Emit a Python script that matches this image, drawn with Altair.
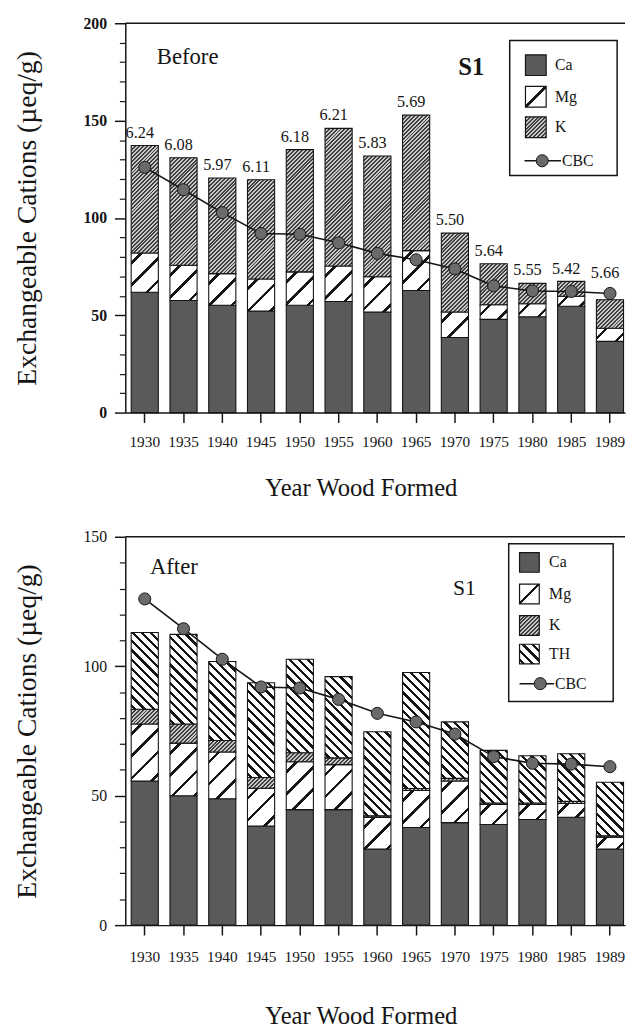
import math
import altair as alt
import pandas as pd

# ---------------- data ----------------
years = ["1930", "1935", "1940", "1945", "1950", "1955", "1960",
         "1965", "1970", "1975", "1980", "1985", "1989"]
ph_labels = ["6.24", "6.08", "5.97", "6.11", "6.18", "6.21", "5.83",
             "5.69", "5.50", "5.64", "5.55", "5.42", "5.66"]
cbc = [126.0, 114.5, 102.7, 92.0, 91.6, 87.2, 81.8, 78.5, 73.8, 65.1, 62.5, 62.2, 61.2]

ca_before = [61.8, 57.6, 55.1, 52.2, 55.1, 57.1, 51.7, 62.7, 38.6, 47.9, 49.2, 54.6, 36.6]
mg_before = [20.2, 18.1, 16.3, 16.4, 17.2, 18.2, 18.1, 20.5, 13.1, 7.5, 6.7, 5.2, 6.7]
k_before = [55.2, 55.2, 49.1, 51.0, 62.8, 70.7, 62.0, 69.6, 40.5, 21.1, 10.5, 7.6, 14.7]

ca_after = [55.7, 50.0, 48.8, 38.3, 44.6, 44.6, 29.4, 37.7, 39.6, 38.9, 40.8, 41.7, 29.4]
mg_after = [22.0, 20.3, 18.1, 14.6, 18.5, 17.4, 12.2, 14.3, 16.1, 7.7, 5.8, 5.3, 4.6]
k_after = [5.7, 7.4, 4.4, 4.1, 3.5, 2.6, 0.6, 0.8, 1.0, 0.6, 0.6, 0.8, 0.5]
th_after = [29.6, 34.6, 30.5, 36.6, 36.1, 31.4, 32.5, 44.8, 21.8, 20.3, 18.2, 18.4, 20.7]

legend_top = ["Ca", "Mg", "K"]
legend_bot = ["Ca", "Mg", "K", "TH"]

# ---------------- style ----------------
FONT = "Liberation Serif, Times New Roman, DejaVu Serif, serif"
INK = "#151515"
CA_FILL = "#5a5a5a"
DOT_FILL = "#6a6a6a"

W = 507
H_TOP, H_BOT = 395, 394
PAD_IN, PAD_OUT, ALIGN = 0.3, 0.095, 0.8
BAR_W = W / (len(years) - PAD_IN + 2 * PAD_OUT) * (1 - PAD_IN)

PATTERNS = {
    "Mg": dict(period=16, lw=2.6, fg=INK, bg="white", slash=True, phase=6),
    "K": dict(period=2.8, lw=1.4, fg="#404040", bg="#c8c8c8", slash=True, phase=0),
    "TH": dict(period=6.6, lw=2.3, fg=INK, bg="white", slash=False, phase=2),
}


def stripes(w, h, period, lw, fg, bg, slash=True, phase=0.0):
    """Hatch fill as a linear gradient with hard stops (45 degree lines)."""
    k = 2.0
    tpp = math.sqrt(2) * w / (k * (w * w + h * h))
    dmax = (w + h) / math.sqrt(2)
    stops = [{"offset": 0.0, "color": bg}]
    d = phase
    while d < dmax:
        a, b = max(d, 0.0), min(d + lw, dmax)
        if b > a:
            ta, tb = round(a * tpp, 5), round(b * tpp, 5)
            stops += [{"offset": ta, "color": bg}, {"offset": ta, "color": fg},
                      {"offset": tb, "color": fg}, {"offset": tb, "color": bg}]
        d += period
    stops.append({"offset": 1.0, "color": bg})
    if slash:
        x1, y1, x2, y2 = 0, 0, k, k * h / w
    else:
        x1, y1, x2, y2 = 0, 1, k, 1 - k * h / w
    return {"gradient": "linear", "x1": x1, "y1": y1, "x2": x2, "y2": y2, "stops": stops}


def swatch_fill(cat, size):
    if cat == "Ca":
        return CA_FILL
    if cat == "Mg":
        return stripes(size, size, period=200, lw=2.2, fg=INK, bg="white",
                       slash=True, phase=size / math.sqrt(2) - 1.1)
    return stripes(size, size, **PATTERNS[cat])


def segment_table(parts):
    rows = []
    for i, yr in enumerate(years):
        lo = 0.0
        for cat, vals in parts:
            hi = lo + vals[i]
            rows.append({"year": yr, "cat": cat, "lo": lo, "hi": hi, "key": f"{yr}|{cat}"})
            lo = hi
    return pd.DataFrame(rows)


one = pd.DataFrame({"k": [0]})


def legend_layers(box, names, sw_x, sw, text_x, ys, cbc_y, line_x, dot_x, cbc_text_x):
    out = [alt.Chart(one).mark_rect(fill="white", stroke=INK, strokeWidth=1.5).encode(
        x=alt.value(box[0]), x2=alt.value(box[2]), y=alt.value(box[1]), y2=alt.value(box[3]))]
    for name, yc in zip(names, ys):
        out.append(alt.Chart(one).mark_rect(fill=swatch_fill(name, sw), stroke=INK, strokeWidth=1.2).encode(
            x=alt.value(sw_x), x2=alt.value(sw_x + sw), y=alt.value(yc - sw / 2), y2=alt.value(yc + sw / 2)))
        out.append(alt.Chart(one).mark_text(font=FONT, fontSize=16, color=INK, align="left",
                                            baseline="middle").encode(
            x=alt.value(text_x), y=alt.value(yc), text=alt.value(name)))
    out.append(alt.Chart(one).mark_rule(color=INK, strokeWidth=1.5).encode(
        x=alt.value(line_x[0]), x2=alt.value(line_x[1]), y=alt.value(cbc_y)))
    out.append(alt.Chart(one).mark_circle(size=150, fill=DOT_FILL, stroke=INK, strokeWidth=1, opacity=1).encode(
        x=alt.value(dot_x), y=alt.value(cbc_y)))
    out.append(alt.Chart(one).mark_text(font=FONT, fontSize=16, color=INK, align="left",
                                        baseline="middle").encode(
        x=alt.value(cbc_text_x), y=alt.value(cbc_y), text=alt.value("CBC")))
    return out


def make_panel(parts, ymax, height, major_vals, label_weight, xlab_pad, xtitle_pad):
    ppu = height / ymax
    seg = segment_table(parts)
    xaxis = alt.Axis(title="Year Wood Formed", labelAngle=0, tickSize=10, tickWidth=1.5,
                     labelPadding=xlab_pad, titlePadding=xtitle_pad, labelFontSize=15.5,
                     titleFontSize=25, domainWidth=1.5, titleX=239,
                     labelFont=FONT, titleFont=FONT)
    x_enc = alt.X("year:N", sort=years,
                  scale=alt.Scale(paddingInner=PAD_IN, paddingOuter=PAD_OUT, align=ALIGN),
                  axis=xaxis)
    y_scale = alt.Scale(domain=[0, ymax], nice=False, zero=True)
    major = alt.Axis(orient="left", values=major_vals, title="Exchangeable Cations (µeq/g)",
                     tickSize=11, tickWidth=1.5, labelPadding=8, titlePadding=42,
                     labelFontSize=16, labelFontWeight=label_weight, titleFontSize=28,
                     domainWidth=1.5, grid=False, labelFont=FONT, titleFont=FONT)
    minor_vals = [v for v in range(10, ymax, 10) if v % 50]
    minor = alt.Axis(orient="left", values=minor_vals, labels=False, title=None, domain=False,
                     tickSize=6, tickWidth=1.2, grid=False)

    layers = [alt.Chart(seg).transform_filter(alt.datum.cat == "Ca").mark_bar(
        fill=CA_FILL, stroke=INK, strokeWidth=1.1).encode(
        x=x_enc, y=alt.Y("lo:Q", scale=y_scale, axis=major), y2="hi:Q")]
    for cat, vals in parts[1:]:
        for i, yr in enumerate(years):
            grad = stripes(BAR_W, max(vals[i] * ppu, 0.5), **PATTERNS[cat])
            layers.append(alt.Chart(seg).transform_filter(alt.datum.key == f"{yr}|{cat}").mark_bar(
                fill=grad, stroke=INK, strokeWidth=1.1).encode(
                x=x_enc, y=alt.Y("lo:Q", scale=y_scale, axis=None), y2="hi:Q"))

    line_df = pd.DataFrame({"year": years, "cbc": cbc})
    layers.append(alt.Chart(line_df).mark_line(color=INK, strokeWidth=1.6).encode(
        x=x_enc, y=alt.Y("cbc:Q", scale=y_scale, axis=minor)))
    layers.append(alt.Chart(line_df).mark_circle(size=150, fill=DOT_FILL, stroke=INK,
                                                 strokeWidth=1, opacity=1).encode(
        x=x_enc, y=alt.Y("cbc:Q", scale=y_scale, axis=None)))
    layers.append(alt.Chart(one).mark_rule(color=INK, strokeWidth=1.5).encode(
        x=alt.value(0), x2=alt.value(W), y=alt.value(0)))
    return layers, x_enc, y_scale


# ---------------- top panel (Before) ----------------
top_parts = [("Ca", ca_before), ("Mg", mg_before), ("K", k_before)]
top_layers, x_top, ys_top = make_panel(top_parts, 200, H_TOP, [0, 50, 100, 150, 200], "bold", 12, 27)

totals_before = [a + b + c for a, b, c in zip(ca_before, mg_before, k_before)]
lab_df = pd.DataFrame({"year": years, "total": totals_before, "cbc": cbc, "ph": ph_labels})
top_layers.append(alt.Chart(lab_df).transform_calculate(
    anchor="max(datum.total, datum.cbc + 4)").mark_text(
    font=FONT, fontSize=16.5, color=INK, dx=-5, dy=-8, baseline="alphabetic").encode(
    x=x_top, y=alt.Y("anchor:Q", scale=ys_top, axis=None), text="ph:N"))
top_layers.append(alt.Chart(one).mark_text(font=FONT, fontSize=23, color=INK, align="left",
                                           baseline="middle").encode(
    x=alt.value(32), y=alt.value(34.5), text=alt.value("Before")))
top_layers.append(alt.Chart(one).mark_text(font=FONT, fontSize=25, fontWeight="bold", color=INK,
                                           align="center", baseline="middle").encode(
    x=alt.value(351), y=alt.value(44.5), text=alt.value("S1")))
top_layers += legend_layers((390, 17.5, 499, 154.5), legend_top, 406, 21, 436,
                            [42.5, 74.5, 105.5], 139.5, (405, 442), 423, 443)

top = alt.layer(*top_layers).resolve_axis(y="independent").properties(width=W, height=H_TOP)

# ---------------- bottom panel (After) ----------------
bot_parts = [("Ca", ca_after), ("Mg", mg_after), ("K", k_after), ("TH", th_after)]
bot_layers, x_bot, ys_bot = make_panel(bot_parts, 150, H_BOT, [0, 50, 100, 150], "normal", 15, 39)
bot_layers.append(alt.Chart(one).mark_text(font=FONT, fontSize=23, color=INK, align="left",
                                           baseline="middle").encode(
    x=alt.value(25), y=alt.value(31), text=alt.value("After")))
bot_layers.append(alt.Chart(one).mark_text(font=FONT, fontSize=22, color=INK,
                                           align="center", baseline="middle").encode(
    x=alt.value(344), y=alt.value(52), text=alt.value("S1")))
bot_layers += legend_layers((389, 7, 495, 167), legend_bot, 400, 20, 430,
                            [26, 58, 90, 119], 149, (400, 435), 421, 436)

bottom = alt.layer(*bot_layers).resolve_axis(y="independent").properties(width=W, height=H_BOT)

chart = alt.vconcat(top, bottom, spacing=28).properties(
    padding={"left": 6, "top": 0, "right": 0, "bottom": 0}
).configure_axis(
    labelFont=FONT, titleFont=FONT, labelColor=INK, titleColor=INK,
    domainColor=INK, tickColor=INK, titleFontWeight="normal", grid=False
).configure_text(font=FONT).configure_view(stroke=None)

chart.save("out.html", embed_options={"renderer": "svg", "actions": False})
